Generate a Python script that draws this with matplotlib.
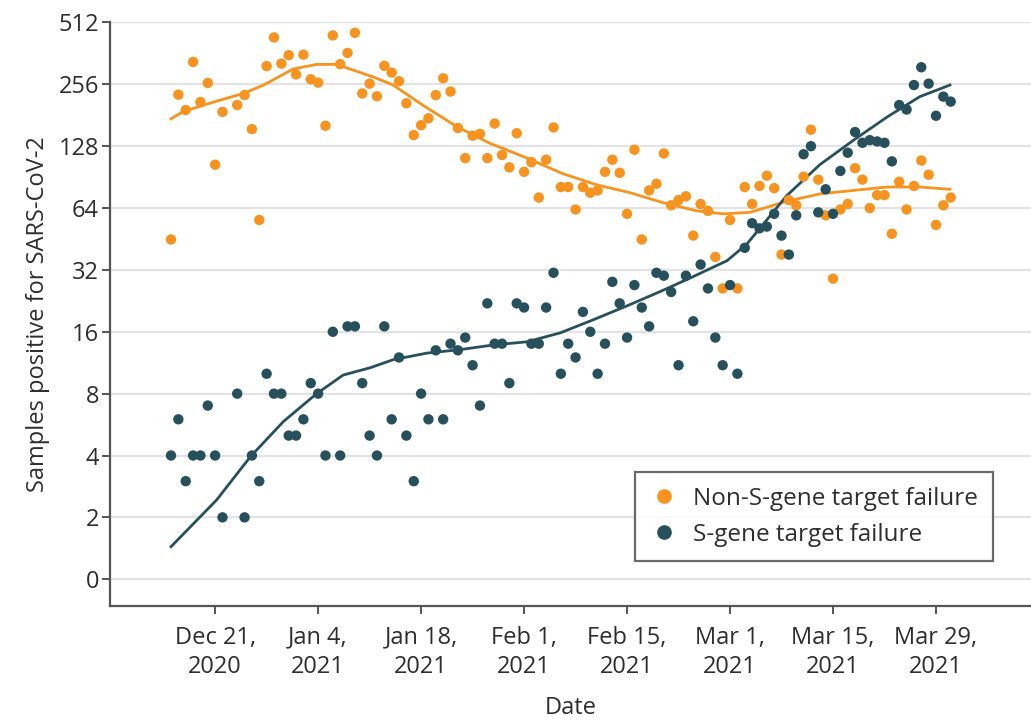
import numpy as np
import pandas as pd
import matplotlib
matplotlib.use("Agg")
import matplotlib.pyplot as plt
from matplotlib.lines import Line2D

plt.rcParams['font.family'] = ['Open Sans', 'DejaVu Sans']

# ---------------- data ----------------
start_date = "2020-12-15"
end_date = "2021-03-31"
nan = np.nan
# daily counts, Dec 15 2020 .. Mar 31 2021 (Dec 23 missing)
non_sgtf = [45, 228, 192, 329, 210, 260, 104, 188, nan, 203, 227, 155, 56, 314, 433, 323, 355,
            286, 357, 271, 261, 161, 443, 321, 364, 456, 231, 258, 224, 315, 292, 265, 207, 145, 162,
            175, 227, 274, 236, 157, 112, 144, 147, 112, 165, 116, 101, 148,
            96, 107, 72, 110, 158, 81, 81, 63, 81, 76, 78, 96, 110, 95, 60, 123, 45, 78, 84, 118,
            66, 70, 73, 47, 67, 62, 37, 26,
            56, 26, 81, 67, 82, 92, 80, 38, 70, 66, 91, 154, 88, 59, 29, 63, 67, 100, 88, 64, 74,
            74, 48, 86, 63, 82, 109, 93, 53, 66, 72]
sgtf = [4, 6, 3, 4, 4, 7, 4, 2, nan, 8, 2, 4, 3, 10, 8, 8, 5,
        5, 6, 9, 8, 4, 16, 4, 17, 17, 9, 5, 4, 17, 6, 12, 5, 3, 8, 6, 13, 6, 14, 13, 15, 11, 7,
        22, 14, 14, 9, 22,
        21, 14, 14, 21, 31, 10, 14, 12, 20, 16, 10, 14, 28, 22, 15, 27, 21, 17, 31, 30, 25, 11,
        30, 18, 34, 26, 15, 11,
        27, 10, 41, 54, 51, 52, 60, 47, 38, 59, 117, 128, 61, 79, 60, 97, 119, 150, 133, 137,
        135, 133, 108, 203, 193, 254, 310, 258, 180, 223, 211]

# smoothed trend lines (days after Dec 15, 2020)
non_trend_day = [0, 1.7, 6.2, 9.8, 12.6, 16.6, 19.8, 22.5, 27.5, 30.2, 34.3, 38.9, 43.4, 47.9,
                 53.3, 57.9, 62.4, 66.9, 71.5, 75.1, 78.7, 83.7, 88.2, 92.8, 97.3, 101.8, 105.9]
non_trend_val = [174, 189, 212, 231, 254, 304, 320, 320, 278, 254, 202, 159, 132, 114,
                 94, 83, 76, 68, 62, 60, 61, 69, 75, 78, 81, 81, 79]
s_trend_day = [0, 6.2, 10.8, 15.3, 19.8, 23.4, 27.1, 30.2, 34.8, 39.3, 43.8, 48.4, 52.9,
               57.4, 62.0, 66.5, 71.0, 75.6, 78.3, 83.7, 88.2, 92.8, 97.3, 101.8, 105.9]
s_trend_val = [1.44, 2.43, 3.95, 5.86, 8.0, 9.85, 10.7, 11.7, 12.6, 13.1, 13.8, 14.3, 15.8,
               18.3, 21.4, 25.1, 29.7, 35.5, 42.8, 73.5, 104, 137, 177, 223, 254]

ytick_vals = [1, 2, 4, 8, 16, 32, 64, 128, 256, 512]
ytick_labels = ["0", "2", "4", "8", "16", "32", "64", "128", "256", "512"]
xtick_dates = ["2020-12-21", "2021-01-04", "2021-01-18", "2021-02-01", "2021-02-15",
               "2021-03-01", "2021-03-15", "2021-03-29"]
xtick_labels = ["Dec 21,\n2020", "Jan 4,\n2021", "Jan 18,\n2021", "Feb 1,\n2021",
                "Feb 15,\n2021", "Mar 1,\n2021", "Mar 15,\n2021", "Mar 29,\n2021"]
series_names = ["Non-S-gene target failure", "S-gene target failure"]

ORANGE = "#F7931E"
TEAL = "#27505D"
TEXT = "#2e2e2e"

# ---------------- plot ----------------
dates = pd.date_range(start_date, end_date, freq="D")
t0 = pd.Timestamp(start_date)
non_tr_dates = [t0 + pd.Timedelta(days=d) for d in non_trend_day]
s_tr_dates = [t0 + pd.Timedelta(days=d) for d in s_trend_day]

fig = plt.figure(figsize=(10.31, 7.25), dpi=100)
ax = fig.add_axes([0.1067, 0.164, 0.8933, 0.805])

ax.set_yscale("log", base=2)
ax.set_ylim(0.74, 512)
ax.set_xlim(pd.Timestamp("2020-12-06 17:00"), pd.Timestamp("2021-04-10 22:00"))

for v in ytick_vals:
    ax.axhline(v, color="#e3e3e3", lw=1.6, zorder=0)

ax.plot(non_tr_dates, non_trend_val, color=ORANGE, lw=2.0, zorder=2)
ax.plot(s_tr_dates, s_trend_val, color=TEAL, lw=2.0, zorder=2)
ax.scatter(dates, non_sgtf, s=56, color=ORANGE, edgecolors="none", zorder=3)
ax.scatter(dates, sgtf, s=56, color=TEAL, edgecolors="none", zorder=3)

ax.set_yticks(ytick_vals)
ax.set_yticklabels(ytick_labels)
ax.yaxis.set_minor_locator(matplotlib.ticker.NullLocator())
ax.set_xticks([pd.Timestamp(d) for d in xtick_dates])
ax.set_xticklabels(xtick_labels)

for sp in ["top", "right"]:
    ax.spines[sp].set_visible(False)
for sp in ["left", "bottom"]:
    ax.spines[sp].set_color("#555555")
    ax.spines[sp].set_linewidth(1.6)

ax.tick_params(axis="y", length=6, width=1.4, color="#555555", labelsize=17,
               labelcolor=TEXT, pad=2)
ax.tick_params(axis="x", length=6, width=1.4, color="#555555", labelsize=17,
               labelcolor=TEXT, pad=8)
for lab in ax.get_xticklabels():
    lab.set_linespacing(1.3)

ax.set_ylabel("Samples positive for SARS-CoV-2", fontsize=17, color=TEXT, labelpad=6)
ax.set_xlabel("Date", fontsize=17, color=TEXT, labelpad=12)

handles = [Line2D([], [], marker="o", ls="none", color=ORANGE, markersize=9.5),
           Line2D([], [], marker="o", ls="none", color=TEAL, markersize=9.5)]
leg = ax.legend(handles, series_names, loc="upper left", bbox_to_anchor=(0.570, 0.2295),
                frameon=True, fancybox=False, fontsize=17.5, handletextpad=0.6,
                borderpad=0.6, labelspacing=0.5, handlelength=1.2, borderaxespad=0)
leg.get_frame().set_edgecolor("#444444")
leg.get_frame().set_linewidth(1.6)
for t in leg.get_texts():
    t.set_color(TEXT)

fig.savefig("out.png", dpi=100)
